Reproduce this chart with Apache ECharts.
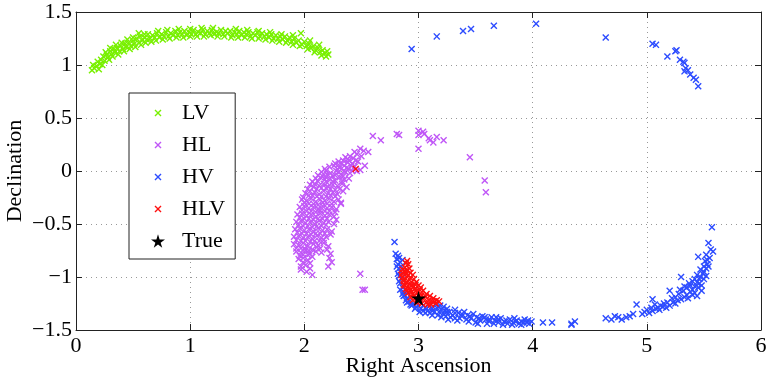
<!DOCTYPE html>
<html>
<head>
<meta charset="utf-8">
<script src="https://cdn.jsdelivr.net/npm/echarts@6/dist/echarts.min.js"></script>
<style>
  html, body { margin: 0; padding: 0; background: #fff; }
  #chart { width: 767px; height: 381px; }
</style>
</head>
<body>
<div id="chart"></div>
<script>
// values (right ascension, declination)
const lvPts = [
  [0.14,0.95],[0.16,0.97],[0.15,1.0],[0.18,0.99],[0.19,1.03],[0.21,1.01],[0.22,1.05],[0.24,1.08],[0.25,1.04],[0.27,1.1],
  [0.28,1.07],[0.3,1.13],[0.31,1.1],[0.33,1.15],[0.34,1.12],[0.36,1.16],[0.38,1.13],[0.39,1.18],[0.41,1.15],[0.43,1.2],
  [0.44,1.17],[0.46,1.21],[0.48,1.18],[0.5,1.23],[0.51,1.2],[0.53,1.25],[0.55,1.21],[0.56,1.27],[0.58,1.23],[0.6,1.26],
  [0.62,1.24],[0.63,1.29],[0.65,1.25],[0.67,1.28],[0.69,1.26],[0.71,1.3],[0.73,1.26],[0.75,1.29],[0.77,1.27],[0.79,1.31],
  [0.81,1.27],[0.83,1.3],[0.85,1.28],[0.87,1.32],[0.89,1.28],[0.91,1.31],[0.93,1.29],[0.95,1.32],[0.97,1.28],[0.99,1.31],
  [1.01,1.29],[1.03,1.33],[1.05,1.29],[1.07,1.31],[1.09,1.3],[1.11,1.33],[1.13,1.29],[1.15,1.32],[1.17,1.3],[1.19,1.33],
  [1.21,1.29],[1.23,1.31],[1.25,1.3],[1.27,1.33],[1.29,1.29],[1.31,1.32],[1.33,1.3],[1.35,1.32],[1.37,1.28],[1.39,1.31],
  [1.41,1.29],[1.43,1.32],[1.45,1.28],[1.47,1.31],[1.49,1.29],[1.51,1.31],[1.53,1.27],[1.55,1.3],[1.57,1.28],[1.59,1.31],
  [1.61,1.27],[1.63,1.3],[1.65,1.27],[1.67,1.29],[1.69,1.26],[1.71,1.29],[1.73,1.25],[1.75,1.28],[1.77,1.25],[1.79,1.27],
  [1.81,1.24],[1.83,1.27],[1.85,1.23],[1.87,1.26],[1.89,1.22],[1.91,1.25],[1.93,1.21],[1.95,1.23],[1.97,1.3],[1.98,1.19],
  [2.0,1.22],[2.02,1.18],[2.04,1.2],[2.06,1.16],[2.08,1.18],[2.1,1.14],[2.12,1.16],[2.14,1.12],[2.16,1.14],[2.18,1.11],
  [2.2,1.13],[2.21,1.1],[0.55,1.3],[0.72,1.32],[0.9,1.34],[1.1,1.35],[0.45,1.24],[0.35,1.19],[1.6,1.32],[1.8,1.29],[0.26,1.12],
  [0.2,0.96],[0.23,1.0],[0.29,1.05],[0.32,1.08],[0.37,1.1],[0.42,1.13],[0.47,1.15],[0.52,1.17],[0.57,1.19],[0.61,1.21],
  [0.66,1.22],[0.7,1.23],[0.76,1.24],[0.82,1.25],[0.88,1.26],[0.94,1.26],[1.0,1.27],[1.06,1.27],[1.12,1.27],[1.18,1.28],
  [1.24,1.27],[1.3,1.27],[1.36,1.26],[1.42,1.26],[1.48,1.26],[1.54,1.25],[1.6,1.25],[1.66,1.24],[1.72,1.23],[1.78,1.22],
  [1.84,1.21],[1.9,1.19],[1.96,1.18],[2.03,1.15],[2.09,1.12],[2.15,1.09],[2.19,1.08],[0.6,1.29],[0.8,1.33],[1.0,1.34],
  [1.2,1.35],[1.4,1.34],[1.5,1.33],[1.7,1.31],[1.9,1.28],[2.05,1.23],[2.13,1.19],[0.4,1.21],[0.3,1.16],[0.5,1.26]
];

const hlPts = [
  [2.49,0.21],[2.56,0.18],[2.52,0.19],[2.46,0.16],[2.4,0.14],[2.36,0.13],[2.5,0.14],[2.43,0.12],
  [2.3,0.09],[2.34,0.1],[2.38,0.08],[2.42,0.07],[2.47,0.09],[2.27,0.07],[2.53,0.05],
  [2.22,0.04],[2.26,0.05],[2.31,0.03],[2.35,0.05],[2.39,0.02],[2.44,0.04],[2.49,0.01],[2.18,0.02],
  [2.15,-0.01],[2.19,0.0],[2.23,-0.02],[2.28,0.0],[2.32,-0.03],[2.36,-0.01],[2.4,-0.02],[2.12,-0.04],[2.25,-0.05],
  [2.1,-0.07],[2.14,-0.06],[2.18,-0.08],[2.22,-0.07],[2.27,-0.09],[2.31,-0.06],[2.35,-0.08],[2.39,-0.07],[2.07,-0.1],
  [2.05,-0.13],[2.09,-0.12],[2.13,-0.14],[2.17,-0.12],[2.21,-0.15],[2.25,-0.13],[2.29,-0.14],[2.33,-0.12],[2.37,-0.15],[2.03,-0.17],
  [2.01,-0.21],[2.05,-0.19],[2.09,-0.2],[2.13,-0.22],[2.17,-0.19],[2.21,-0.21],[2.25,-0.2],[2.29,-0.22],[2.34,-0.19],[1.99,-0.25],
  [1.98,-0.27],[2.02,-0.28],[2.06,-0.26],[2.1,-0.29],[2.14,-0.27],[2.18,-0.28],[2.22,-0.26],[2.26,-0.29],[2.3,-0.27],[2.32,-0.31],
  [1.96,-0.34],[2.0,-0.33],[2.04,-0.35],[2.08,-0.34],[2.12,-0.36],[2.16,-0.33],[2.2,-0.35],[2.24,-0.34],[2.28,-0.36],
  [1.94,-0.41],[1.98,-0.4],[2.02,-0.42],[2.06,-0.41],[2.1,-0.43],[2.14,-0.4],[2.18,-0.42],[2.22,-0.41],[2.26,-0.43],
  [1.93,-0.48],[1.97,-0.47],[2.01,-0.49],[2.05,-0.48],[2.09,-0.5],[2.13,-0.47],[2.17,-0.49],[2.21,-0.48],[2.26,-0.5],
  [1.92,-0.55],[1.96,-0.54],[2.0,-0.56],[2.04,-0.55],[2.08,-0.57],[2.12,-0.54],[2.16,-0.56],[2.2,-0.55],[2.24,-0.57],
  [1.91,-0.62],[1.95,-0.61],[1.99,-0.63],[2.03,-0.62],[2.07,-0.64],[2.11,-0.61],[2.15,-0.63],[2.19,-0.62],[2.23,-0.6],
  [1.91,-0.69],[1.95,-0.7],[1.99,-0.68],[2.03,-0.71],[2.08,-0.69],[2.12,-0.7],[2.17,-0.68],[2.21,-0.71],
  [1.93,-0.76],[1.97,-0.77],[2.01,-0.75],[2.05,-0.78],[2.1,-0.76],[2.15,-0.77],[2.2,-0.74],
  [1.95,-0.83],[1.99,-0.82],[2.03,-0.84],[2.07,-0.81],[2.22,-0.82],[2.24,-0.86],
  [1.97,-0.9],[2.01,-0.89],[2.05,-0.92],[2.21,-0.9],[2.07,-0.98],[2.32,-0.3],
  [2.44,0.18],[2.38,0.11],[2.45,0.1],[2.33,0.07],[2.41,0.05],[2.29,0.02],[2.37,0.03],[2.46,0.0],[2.2,-0.03],[2.3,-0.01],
  [2.34,-0.05],[2.16,-0.05],[2.25,-0.1],[2.33,-0.1],[2.12,-0.1],[2.2,-0.11],[2.08,-0.15],[2.15,-0.16],[2.23,-0.17],[2.31,-0.17],
  [2.04,-0.23],[2.11,-0.24],[2.19,-0.24],[2.27,-0.24],[2.0,-0.3],[2.08,-0.31],[2.16,-0.3],[2.24,-0.31],[1.98,-0.37],[2.06,-0.38],
  [2.14,-0.37],[2.22,-0.38],[1.96,-0.44],[2.04,-0.45],[2.12,-0.45],[2.2,-0.45],[1.95,-0.51],[2.03,-0.52],[2.11,-0.52],[2.19,-0.51],
  [1.94,-0.58],[2.02,-0.59],[2.1,-0.59],[2.18,-0.59],[1.93,-0.65],[2.01,-0.66],[2.09,-0.66],[2.17,-0.65],[1.93,-0.73],[2.0,-0.73],
  [2.07,-0.74],[2.14,-0.73],[1.96,-0.8],[2.03,-0.79],[1.99,-0.86],[2.05,-0.87],[1.97,-0.93],[2.02,-0.95],[2.23,-0.78],[2.28,-0.46],[2.27,-0.39],
  [2.19,-0.06],[2.27,-0.04],[2.11,-0.17],[2.19,-0.16],[2.27,-0.18],[2.07,-0.23],[2.15,-0.24],[2.23,-0.23],[2.04,-0.31],[2.12,-0.32],
  [2.2,-0.31],[2.02,-0.38],[2.1,-0.39],[2.18,-0.38],[2.0,-0.45],[2.08,-0.46],[2.16,-0.45],[1.99,-0.52],[2.07,-0.53],[2.15,-0.52],
  [1.98,-0.59],[2.06,-0.6],[2.14,-0.59],[1.97,-0.66],[2.05,-0.67],[2.13,-0.66],[1.97,-0.73],[2.04,-0.75],[2.11,-0.72],[1.99,-0.79],
  [2.35,0.0],[2.42,0.0],[2.3,0.06],[2.39,0.1],
  [2.6,0.33],[2.67,0.29],[2.81,0.35],[2.83,0.34],[3.0,0.38],[3.04,0.37],[3.0,0.34],[3.05,0.35],[3.09,0.31],
  [3.1,0.29],[3.13,0.27],[3.16,0.32],[3.22,0.29],[3.0,0.21],[3.45,0.13],[3.58,-0.09],[3.59,-0.2],
  [2.49,-0.97],[2.51,-1.12],[2.53,-1.12]
];

const hvPts = [
  // lower band
  [2.79,-0.67],[2.8,-0.78],[2.82,-0.8],[2.81,-0.83],[2.83,-0.82],[2.84,-0.86],[2.82,-0.88],[2.83,-0.92],[2.85,-0.9],
  [2.84,-0.95],[2.83,-0.99],[2.85,-1.02],[2.84,-1.06],[2.86,-1.1],[2.87,-1.14],[2.88,-1.17],[2.9,-1.2],[2.92,-1.23],
  [2.95,-1.26],[2.98,-1.28],[3.0,-1.27],[3.02,-1.3],[3.06,-1.29],[3.08,-1.32],[3.12,-1.3],[3.14,-1.33],[3.18,-1.28],
  [3.2,-1.31],[3.22,-1.35],[3.25,-1.3],[3.27,-1.33],[3.3,-1.36],[3.32,-1.31],[3.35,-1.34],[3.38,-1.37],[3.4,-1.33],
  [3.43,-1.36],[3.46,-1.39],[3.48,-1.35],[3.51,-1.38],[3.54,-1.41],[3.56,-1.37],[3.59,-1.4],[3.62,-1.42],[3.64,-1.38],
  [3.67,-1.41],[3.7,-1.43],[3.72,-1.39],[3.75,-1.42],[3.78,-1.44],[3.8,-1.4],[3.83,-1.43],[3.86,-1.41],[3.88,-1.44],
  [3.9,-1.42],[3.93,-1.4],[3.95,-1.43],[3.97,-1.44],[3.99,-1.42],[4.09,-1.43],[4.17,-1.43],[4.34,-1.45],
  [3.15,-1.26],[3.22,-1.28],[3.28,-1.38],[3.36,-1.39],[3.5,-1.43],[3.6,-1.44],[3.19,-1.27],[3.16,-1.29],[3.1,-1.27],
  [3.04,-1.27],[3.04,-1.32],[3.1,-1.34],[3.17,-1.36],[3.24,-1.37],[3.32,-1.39],[3.42,-1.4],[3.68,-1.38],[3.84,-1.39],
  [2.87,-1.18],[2.9,-1.24],[2.94,-1.27],[2.86,-0.84],
  [2.81,-0.9],[2.82,-0.97],[2.83,-1.04],[2.84,-1.12],[2.86,-1.16],[2.89,-1.22],[2.93,-1.26],[2.97,-1.3],[3.01,-1.33],
  [3.06,-1.34],[3.12,-1.36],[3.2,-1.38],[3.26,-1.4],[3.34,-1.41],[3.44,-1.42],[3.52,-1.44],[3.58,-1.38],[3.66,-1.44],
  [3.74,-1.45],[3.82,-1.45],[3.9,-1.45],[3.96,-1.41],[3.25,-1.33],[3.32,-1.34],[3.38,-1.35],[3.45,-1.37],[3.53,-1.39],
  [3.62,-1.4],[3.7,-1.4],[3.77,-1.41],[3.85,-1.42],[3.92,-1.43],[3.12,-1.32],[3.18,-1.33],[3.07,-1.3],[3.23,-1.32],
  // right arc
  [5.57,-0.53],[5.54,-0.68],[5.56,-0.74],[5.58,-0.76],[5.52,-0.79],[5.45,-0.81],[5.51,-0.85],[5.53,-0.88],[5.52,-0.92],
  [5.5,-0.95],[5.49,-0.97],[5.47,-1.0],[5.46,-1.02],[5.42,-1.02],[5.3,-1.0],[5.44,-1.05],[5.48,-1.08],[5.45,-1.1],
  [5.48,-1.13],[5.4,-1.12],[5.42,-1.15],[5.38,-1.14],[5.35,-1.17],[5.32,-1.13],[5.29,-1.12],[5.36,-1.2],[5.3,-1.21],
  [5.33,-1.19],[5.27,-1.22],[5.25,-1.25],[5.23,-1.24],[5.2,-1.13],[5.2,-1.27],[5.17,-1.29],[5.14,-1.28],[5.11,-1.31],
  [5.08,-1.3],[5.05,-1.21],[5.05,-1.32],[5.02,-1.34],[5.0,-1.31],[4.98,-1.33],[4.96,-1.35],[4.91,-1.26],[4.88,-1.35],
  [4.85,-1.37],[4.82,-1.38],[4.78,-1.4],[4.75,-1.38],[4.72,-1.37],[4.69,-1.4],[4.64,-1.39],[4.37,-1.42],[4.34,-1.44],
  [5.4,-1.17],[5.44,-1.18],[5.35,-1.1],[5.38,-1.08],[5.42,-1.09],[5.46,-1.06],[5.5,-1.02],[5.52,-0.99],[5.54,-0.9],
  [5.55,-0.82],[5.53,-0.84],[5.5,-0.9],[5.47,-0.93],[5.44,-0.98],[5.4,-1.04],[5.37,-1.06],[5.33,-1.09],[5.28,-1.16],
  [5.25,-1.19],[5.22,-1.2],[5.18,-1.24],[5.15,-1.25],[5.12,-1.27],[5.1,-1.29],[5.07,-1.26],[5.04,-1.29],
  // top scattered
  [2.94,1.15],[3.16,1.27],[3.39,1.32],[3.46,1.34],[3.66,1.37],[4.03,1.39],[4.64,1.26],[5.05,1.2],[5.08,1.19],
  [5.18,1.08],[5.25,1.13],[5.26,1.14],[5.29,1.05],[5.32,1.03],[5.33,1.02],[5.34,0.97],[5.36,0.95],[5.33,0.94],
  [5.38,0.91],[5.41,0.88],[5.43,0.86],[5.45,0.8]
];

const hlvPts = [
  [2.89,-0.87],[2.91,-0.88],[2.88,-0.91],[2.92,-0.92],[2.9,-0.94],[2.86,-0.96],[2.89,-0.97],[2.93,-0.96],[2.95,-0.98],
  [2.86,-1.0],[2.9,-1.0],[2.93,-1.01],[2.96,-1.02],[2.87,-1.04],[2.91,-1.04],[2.94,-1.05],[2.98,-1.05],[2.88,-1.08],
  [2.92,-1.07],[2.96,-1.09],[3.0,-1.08],[2.89,-1.11],[2.93,-1.12],[2.97,-1.11],[3.01,-1.12],[3.04,-1.13],[2.91,-1.15],
  [2.95,-1.16],[2.99,-1.15],[3.03,-1.17],[3.07,-1.16],[3.1,-1.18],[2.93,-1.19],[2.97,-1.2],[3.01,-1.21],[3.05,-1.2],
  [3.09,-1.22],[3.13,-1.2],[3.16,-1.22],[2.99,-1.24],[3.03,-1.25],[3.07,-1.24],[3.11,-1.26],[3.15,-1.25],[3.18,-1.23],
  [2.95,-1.22],[2.9,-1.13],[2.87,-1.07],[3.02,-1.1],[2.85,-0.98],[2.9,-0.85],[2.45,0.02],
  [2.88,-0.94],[2.91,-0.98],[2.87,-1.02],[2.89,-1.05],[2.94,-1.08],[2.98,-1.13],[2.92,-1.1],[3.0,-1.18],[3.06,-1.18],
  [3.12,-1.23],[3.01,-1.23],[2.96,-1.18],[3.08,-1.26],[2.94,-1.14],[3.14,-1.23],[2.86,-0.93],[2.97,-1.07]
];

const truePts = [[3.0, -1.2]];

const xTicks = { min: 0, max: 6, interval: 1 };
const yTicks = { min: -1.5, max: 1.5, interval: 0.5 };

const names = ['LV', 'HL', 'HV', 'HLV', 'True'];
const colors = ['#78f000', '#c057f7', '#2d4cff', '#ff1010', '#000000'];

const XMARK = 'path://M0,1.4L1.4,0L5,3.6L8.6,0L10,1.4L6.4,5L10,8.6L8.6,10L5,6.4L1.4,10L0,8.6L3.6,5Z';
// same cross with an empty margin so it looks small in the legend
const XMARK_LEG = 'path://M-5,-5L-5,-5M15,15L15,15M0,1.4L1.4,0L5,3.6L8.6,0L10,1.4L6.4,5L10,8.6L8.6,10L5,6.4L1.4,10L0,8.6L3.6,5Z';
const STAR = 'path://M50,0L61,35L98,35L68,57L79,91L50,70L21,91L32,57L2,35L39,35Z';

const FONT = 'Liberation Serif';
const minus = (v) => String(v).replace('-', '\u2212');

const chart = echarts.init(document.getElementById('chart'), null, { renderer: 'canvas' });

const frameAxis = (extra) => Object.assign({
  type: 'value',
  axisLine: { show: true, onZero: false, lineStyle: { color: '#222', width: 1 } },
  axisTick: { show: true, inside: true, length: 6, lineStyle: { color: '#222' } },
  axisLabel: { show: false },
  splitLine: { show: false }
}, extra);

const option = {
  animation: false,
  backgroundColor: '#fff',
  grid: { left: 76, right: 6, top: 12, bottom: 51, containLabel: false, outerBoundsMode: 'none' },
  legend: {
    orient: 'vertical',
    left: 129, top: 93,
    backgroundColor: '#fff',
    borderColor: '#222', borderWidth: 1, borderRadius: 0,
    padding: [4, 10, 2, 22],
    itemWidth: 14, itemHeight: 14, itemGap: 0,
    textStyle: { fontFamily: FONT, fontSize: 22, color: '#000', lineHeight: 32, padding: [0, 0, 0, 12] },
    data: names.map((n, i) => ({ name: n, icon: i === 4 ? STAR : XMARK_LEG }))
  },
  xAxis: [
    frameAxis({
      position: 'bottom', min: xTicks.min, max: xTicks.max, interval: xTicks.interval,
      name: 'Right Ascension', nameLocation: 'middle', nameGap: 25, nameMoveOverlap: false,
      nameTextStyle: { fontFamily: FONT, fontSize: 22, color: '#000' },
      axisLabel: { show: true, fontFamily: FONT, fontSize: 22, color: '#000', margin: 5, formatter: minus },
      splitLine: { show: true, lineStyle: { color: '#999', type: [1, 4], width: 1 } }
    }),
    frameAxis({ position: 'top', min: xTicks.min, max: xTicks.max, interval: xTicks.interval })
  ],
  yAxis: [
    frameAxis({
      position: 'left', min: yTicks.min, max: yTicks.max, interval: yTicks.interval,
      name: 'Declination', nameLocation: 'middle', nameGap: 50, nameMoveOverlap: false,
      nameTextStyle: { fontFamily: FONT, fontSize: 22, color: '#000' },
      axisLabel: { show: true, fontFamily: FONT, fontSize: 22, color: '#000', margin: 4, formatter: minus },
      splitLine: { show: true, lineStyle: { color: '#999', type: [1, 4], width: 1 } }
    }),
    frameAxis({ position: 'right', min: yTicks.min, max: yTicks.max, interval: yTicks.interval })
  ],
  series: [lvPts, hlPts, hvPts, hlvPts, truePts].map((pts, i) => ({
    name: names[i],
    type: 'scatter',
    symbol: i === 4 ? STAR : XMARK,
    symbolSize: i === 4 ? 15 : 7,
    itemStyle: { color: colors[i], opacity: 1 },
    emphasis: { disabled: true },
    z: 2 + i,
    data: pts
  }))
};

chart.setOption(option);
</script>
</body>
</html>
